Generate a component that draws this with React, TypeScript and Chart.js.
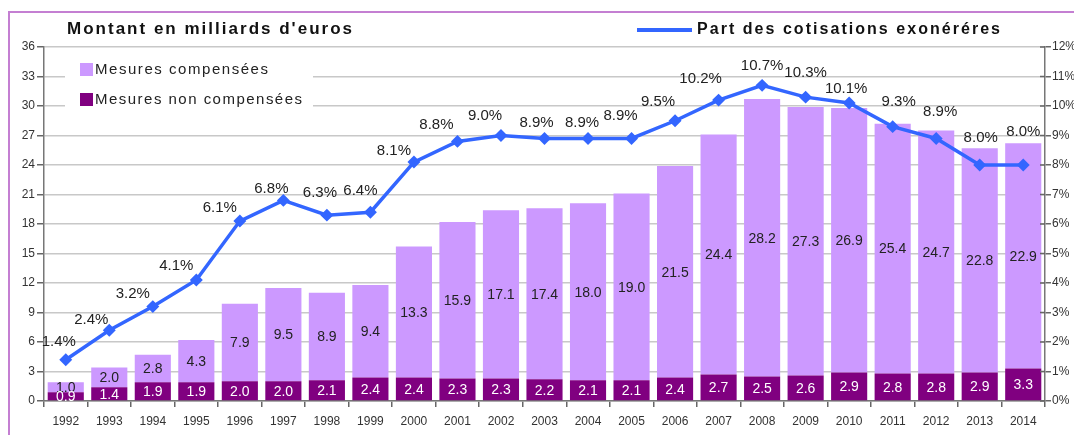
import React, { useEffect, useRef } from "react";
import { Chart, registerables } from "chart.js";

Chart.register(...registerables);

const years = ["1992", "1993", "1994", "1995", "1996", "1997", "1998", "1999", "2000", "2001", "2002", "2003", "2004", "2005", "2006", "2007", "2008", "2009", "2010", "2011", "2012", "2013", "2014"];
const nonCompensees = [0.9, 1.4, 1.9, 1.9, 2.0, 2.0, 2.1, 2.4, 2.4, 2.3, 2.3, 2.2, 2.1, 2.1, 2.4, 2.7, 2.5, 2.6, 2.9, 2.8, 2.8, 2.9, 3.3];
const compensees = [1.0, 2.0, 2.8, 4.3, 7.9, 9.5, 8.9, 9.4, 13.3, 15.9, 17.1, 17.4, 18.0, 19.0, 21.5, 24.4, 28.2, 27.3, 26.9, 25.4, 24.7, 22.8, 22.9];
const partCotisations = [1.4, 2.4, 3.2, 4.1, 6.1, 6.8, 6.3, 6.4, 8.1, 8.8, 9.0, 8.9, 8.9, 8.9, 9.5, 10.2, 10.7, 10.3, 10.1, 9.3, 8.9, 8.0, 8.0];

const titleText = "Montant en milliards d'euros";
const legendCompensees = "Mesures compensées";
const legendNonCompensees = "Mesures non compensées";
const legendPart = "Part des cotisations exonéréres";

// label nudges (style only): offsets of % labels relative to their points
const pctNudge: [number, number][] = [
  [-7, -18], [-18, -10], [-20, -13], [-20, -14], [-20, -13], [-12, -12], [-7, -22], [-10, -21],
  [-20, -11], [-21, -17], [-16, -20], [-8, -16], [-6, -16], [-11, -23], [-17, -19], [-18, -21],
  [0, -19], [0, -24], [-3, -14], [6, -25], [4, -27], [1, -27], [0, -33],
];

const FONT = "'Liberation Sans', Arial, sans-serif";
const LIGHT = "#CC99FF";
const DARK = "#800080";
const BLUE = "#3366FF";

function drawSpaced(ctx: CanvasRenderingContext2D, text: string, x: number, y: number, target: number) {
  const w = ctx.measureText(text).width;
  const sp = (target - w) / (text.length - 1);
  let cx = x;
  for (const ch of text) {
    ctx.fillText(ch, cx, y);
    cx += ctx.measureText(ch).width + sp;
  }
}

const decor = {
  id: "decor",
  beforeDraw(chart: any) {
    const ctx = chart.ctx;
    ctx.save();
    ctx.fillStyle = "#fff";
    ctx.fillRect(0, 0, chart.width, chart.height);
    ctx.restore();
  },
  beforeDatasetsDraw(chart: any) {
    const ctx = chart.ctx;
    ctx.save();
    ctx.fillStyle = "#fff";
    ctx.fillRect(65, 52, 248, 68);
    ctx.restore();
  },
  afterDatasetsDraw(chart: any) {
    const ctx: CanvasRenderingContext2D = chart.ctx;
    ctx.save();
    ctx.textAlign = "center";
    ctx.textBaseline = "middle";
    // bar labels
    const metaNon = chart.getDatasetMeta(1);
    const metaComp = chart.getDatasetMeta(2);
    ctx.font = `14px ${FONT}`;
    metaComp.data.forEach((el: any, i: number) => {
      const p = el.getProps(["x", "y", "base"], true);
      ctx.fillStyle = "#222";
      ctx.fillText(compensees[i].toFixed(1), p.x, (p.y + p.base) / 2 + 1);
    });
    metaNon.data.forEach((el: any, i: number) => {
      const p = el.getProps(["x", "y", "base"], true);
      ctx.fillStyle = "#fff";
      ctx.fillText(nonCompensees[i].toFixed(1), p.x, (p.y + p.base) / 2 + 1);
    });
    // percent labels
    const metaLine = chart.getDatasetMeta(0);
    ctx.font = `15px ${FONT}`;
    ctx.fillStyle = "#222";
    metaLine.data.forEach((el: any, i: number) => {
      const [dx, dy] = pctNudge[i];
      ctx.fillText(partCotisations[i].toFixed(1) + "%", el.x + dx, el.y + dy);
    });
    ctx.restore();
  },
  afterDraw(chart: any) {
    const ctx: CanvasRenderingContext2D = chart.ctx;
    ctx.save();
    // frame
    ctx.strokeStyle = "#C47FD2";
    ctx.lineWidth = 2;
    ctx.beginPath();
    ctx.moveTo(9, 435);
    ctx.lineTo(9, 12);
    ctx.lineTo(1074, 12);
    ctx.stroke();
    // title
    ctx.fillStyle = "#111";
    ctx.textBaseline = "middle";
    ctx.textAlign = "left";
    ctx.font = `bold 17px ${FONT}`;
    drawSpaced(ctx, titleText, 67, 29, 285);
    // line legend
    ctx.strokeStyle = BLUE;
    ctx.lineWidth = 4;
    ctx.beginPath();
    ctx.moveTo(637, 30);
    ctx.lineTo(692, 30);
    ctx.stroke();
    ctx.font = `bold 16px ${FONT}`;
    drawSpaced(ctx, legendPart, 697, 30, 303);
    // bar legend
    ctx.fillStyle = LIGHT;
    ctx.fillRect(80, 63, 13, 13);
    ctx.fillStyle = DARK;
    ctx.fillRect(80, 93, 13, 13);
    ctx.fillStyle = "#222";
    ctx.font = `15px ${FONT}`;
    drawSpaced(ctx, legendCompensees, 95, 70, 173);
    drawSpaced(ctx, legendNonCompensees, 95, 100, 207);
    // inner ticks on right axis
    const y1 = chart.scales.y1;
    ctx.strokeStyle = "#666";
    ctx.lineWidth = 1.5;
    for (let v = 0; v <= 12; v++) {
      const yy = y1.getPixelForValue(v);
      ctx.beginPath();
      ctx.moveTo(y1.left - 5, yy);
      ctx.lineTo(y1.left, yy);
      ctx.stroke();
    }
    ctx.restore();
  },
};

export default function App() {
  const ref = useRef<HTMLCanvasElement | null>(null);
  useEffect(() => {
    if (!ref.current) return;
    const chart = new Chart(ref.current, {
      type: "bar",
      data: {
        labels: years,
        datasets: [
          {
            type: "line",
            label: legendPart,
            data: partCotisations,
            yAxisID: "y1",
            borderColor: BLUE,
            backgroundColor: BLUE,
            borderWidth: 3.5,
            pointStyle: "rectRot",
            pointRadius: 4,
            pointBackgroundColor: BLUE,
            pointBorderColor: BLUE,
            tension: 0,
            order: 0,
          } as any,
          {
            type: "bar",
            label: legendNonCompensees,
            data: nonCompensees,
            yAxisID: "y",
            backgroundColor: DARK,
            stack: "s",
            order: 1,
            barPercentage: 0.83,
            categoryPercentage: 1,
          },
          {
            type: "bar",
            label: legendCompensees,
            data: compensees,
            yAxisID: "y",
            backgroundColor: LIGHT,
            stack: "s",
            order: 1,
            barPercentage: 0.83,
            categoryPercentage: 1,
          },
        ],
      },
      options: {
        responsive: false,
        animation: false,
        layout: { padding: { top: 47, left: 0, right: 0, bottom: 0 } },
        plugins: {
          legend: { display: false },
          title: { display: false },
          tooltip: { enabled: false },
        },
        scales: {
          x: {
            stacked: true,
            offset: true,
            grid: { display: true, drawOnChartArea: false, offset: true, tickLength: 6, color: "#666", lineWidth: 1.5 },
            border: { color: "#777", width: 1.5 },
            ticks: { color: "#333", font: { family: FONT, size: 12 }, padding: 7, maxRotation: 0, autoSkip: false },
            afterFit: (s: any) => { s.height = 34; },
          },
          y: {
            stacked: true,
            min: 0,
            max: 36,
            ticks: { stepSize: 3, color: "#333", font: { family: FONT, size: 12 }, padding: 2 },
            grid: { color: "#c8c8c8", lineWidth: 1.5, tickLength: 7, tickColor: "#666" },
            border: { color: "#777", width: 1.5 },
            afterFit: (s: any) => { s.width = 44; },
          },
          y1: {
            position: "right",
            min: 0,
            max: 12,
            ticks: { stepSize: 1, color: "#333", font: { family: FONT, size: 12 }, padding: 1, callback: (v: any) => v + "%" },
            grid: { drawOnChartArea: false, tickLength: 6, color: "#666", lineWidth: 1.5 },
            border: { color: "#777", width: 1.5 },
            afterFit: (s: any) => { s.width = 29; },
          },
        },
      },
      plugins: [decor],
    });
    return () => chart.destroy();
  }, []);
  return (
    <div style={{ position: "absolute", left: 0, top: 0, width: 1074, height: 435 }}>
      <canvas ref={ref} width={1074} height={435} style={{ display: "block" }} />
    </div>
  );
}
